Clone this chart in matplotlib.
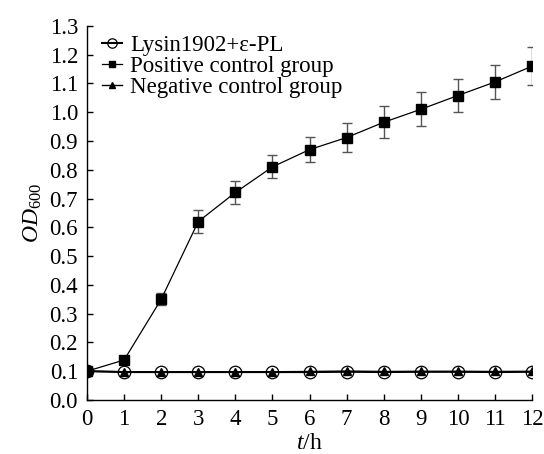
import numpy as np
import matplotlib.pyplot as plt

plt.rcParams['font.family'] = ['Liberation Serif', 'DejaVu Serif']
plt.rcParams['mathtext.fontset'] = 'custom'
plt.rcParams['mathtext.rm'] = 'Liberation Serif'
plt.rcParams['mathtext.it'] = 'Liberation Serif:italic'

hours = list(range(0, 13))
lysin = [0.10, 0.097, 0.097, 0.097, 0.097, 0.097, 0.097, 0.098, 0.097, 0.098, 0.098, 0.097, 0.098]
positive = [0.10, 0.139, 0.350, 0.620, 0.721, 0.810, 0.870, 0.912, 0.965, 1.010, 1.058, 1.105, 1.160]
positive_err = [0.0, 0.004, 0.021, 0.039, 0.040, 0.040, 0.044, 0.050, 0.056, 0.059, 0.058, 0.060, 0.067]
negative = [0.10, 0.098, 0.098, 0.098, 0.098, 0.098, 0.099, 0.100, 0.099, 0.099, 0.099, 0.099, 0.099]

fig = plt.figure(figsize=(5.44, 4.54), dpi=100)
ax = fig.add_axes([0.16, 0.119, 0.818, 0.824])

ax.errorbar(hours, positive, yerr=positive_err, fmt='none', ecolor='#555555',
            elinewidth=1, capsize=3.5, capthick=1, zorder=2)
ax.plot(hours, positive, color='black', lw=0.9, marker='s', ms=6.5,
        mfc='black', mec='black', label='Positive control group', zorder=3)
ax.plot(hours, lysin, color='black', lw=1.5, marker='o', ms=9,
        mfc='none', mec='black', mew=0.9, label='Lysin1902+ε-PL', zorder=4)
ax.plot(hours, negative, color='black', lw=1.0, marker='^', ms=6,
        mfc='black', mec='black', label='Negative control group', zorder=5)

ax.set_xlim(0, 12)
ax.set_ylim(0, 1.3)
ax.set_xticks(hours)
ax.set_yticks(np.arange(0, 1.31, 0.1))
ax.set_yticklabels([f'{v:.1f}' for v in np.arange(0, 1.31, 0.1)])
ax.tick_params(direction='in', length=4, width=1, labelsize=16.5, pad=6.5)
for s in ['top', 'right']:
    ax.spines[s].set_visible(False)
for s in ['left', 'bottom']:
    ax.spines[s].set_linewidth(1)

ax.set_xlabel('$t$/h', fontsize=17, labelpad=2)
ax.set_ylabel('$\\mathit{OD}_{600}$', fontsize=17, labelpad=4)

h, l = ax.get_legend_handles_labels()
order = [1, 0, 2]
ax.legend([h[i] for i in order], [l[i] for i in order], loc='upper left',
          bbox_to_anchor=(0.012, 1.0), frameon=False, fontsize=16.5,
          handlelength=0.9, handletextpad=0.35, labelspacing=0.0,
          borderaxespad=0.0, markerscale=0.75)

fig.savefig('out.png', dpi=100)
